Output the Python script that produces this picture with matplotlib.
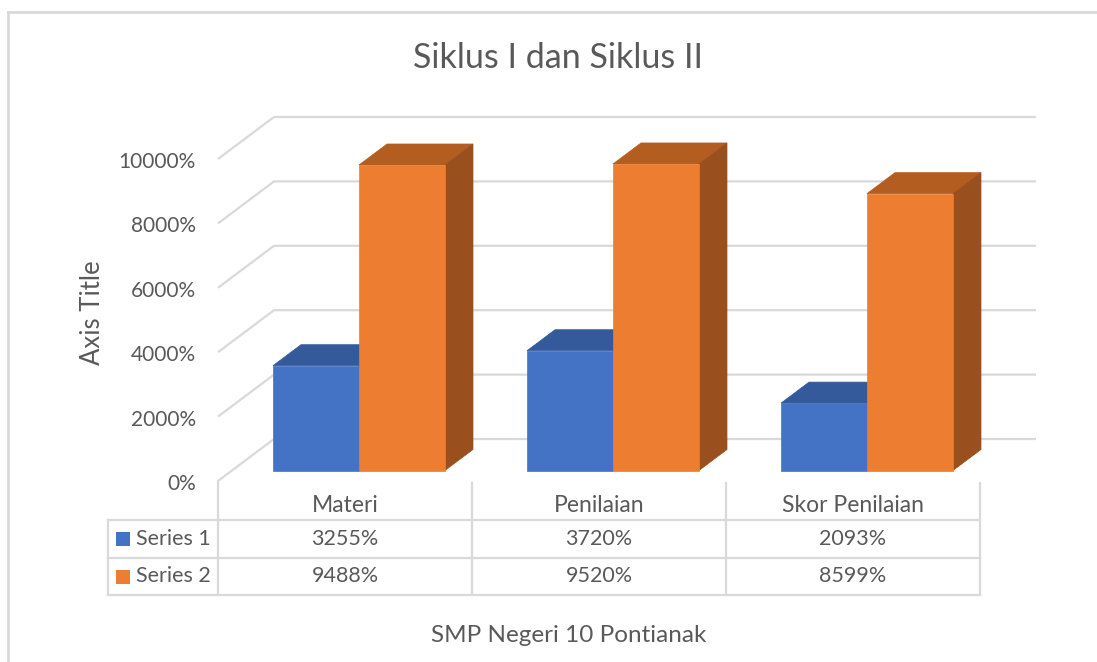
import matplotlib
matplotlib.use("Agg")
import matplotlib.pyplot as plt
from matplotlib.patches import Polygon

# chart data
categories = ["Materi", "Penilaian", "Skor Penilaian"]
series_names = ["Series 1", "Series 2"]
series_1 = [3255, 3720, 2093]
series_2 = [9488, 9520, 8599]
y_ticks = [0, 2000, 4000, 6000, 8000, 10000]

# Excel-like styling
FRONT = ["#4472C4", "#ED7D31"]
TOP = ["#345A9B", "#B45D21"]
SIDE = ["#2C4D85", "#9A4F1E"]
GRID = "#D9D9D9"
TXT = "#595959"
FONT = "Lato"

W, H = 1097, 662
# projection: category unit = 254 px, 0.0322 px per percent, front floor at y=481 px
X0, CAT_PX = 218, 254
Y0, PX_PER = 481, 0.0322
DEPTH_X = 56 / CAT_PX      # full depth offset (category units)
DEPTH_Y = 42 / PX_PER      # full depth offset (value units)
BAR_W = 86 / CAT_PX

fig = plt.figure(figsize=(W / 100, H / 100), dpi=100)
ax = fig.add_axes([0, 0, 1, 1])
ax.set_xlim(-X0 / CAT_PX, (W - X0) / CAT_PX)
ax.set_ylim((Y0 - H) / PX_PER, Y0 / PX_PER)
ax.axis("off")

# pixel overlay for text and table
pix = fig.add_axes([0, 0, 1, 1], zorder=5)
pix.set_xlim(0, W)
pix.set_ylim(H, 0)
pix.axis("off")
pix.patch.set_alpha(0)

n = len(categories)

# walls: side-wall diagonals and back-wall gridlines
for v in y_ticks:
    ax.plot([0, DEPTH_X, n + DEPTH_X], [v, v + DEPTH_Y, v + DEPTH_Y],
            color=GRID, lw=1.6, solid_capstyle="butt", zorder=1)


def draw_bar(x_left, value, k, z):
    d0, d1 = 0.25, 0.75
    fx, fy = x_left + d0 * DEPTH_X, d0 * DEPTH_Y
    bx, by = (d1 - d0) * DEPTH_X, (d1 - d0) * DEPTH_Y
    top = [(fx, fy + value), (fx + BAR_W, fy + value),
           (fx + BAR_W + bx, fy + value + by), (fx + bx, fy + value + by)]
    side = [(fx + BAR_W, fy), (fx + BAR_W + bx, fy + by),
            (fx + BAR_W + bx, fy + value + by), (fx + BAR_W, fy + value)]
    ax.add_patch(Polygon(top, closed=True, facecolor=TOP[k], edgecolor=TOP[k], lw=0.5, zorder=z))
    ax.add_patch(Polygon(side, closed=True, facecolor=SIDE[k], edgecolor=SIDE[k], lw=0.5, zorder=z))
    ax.bar(fx, value, width=BAR_W, bottom=fy, align="edge",
           color=FRONT[k], edgecolor=FRONT[k], lw=0.5, zorder=z + 0.5)


for i in range(n):
    center = i + 0.5
    for k, vals in enumerate([series_1, series_2]):
        x_left = center - BAR_W + k * BAR_W
        draw_bar(x_left, vals[i], k, 2 + i * 2 + k)

# value axis labels (front plane)
for v in y_ticks:
    py = Y0 - v * PX_PER + 3
    pix.text(196, py, f"{v}%", ha="right", va="center", fontsize=15,
             color=TXT, family=FONT)

# titles
pix.text(558, 68, "Siklus I dan Siklus II", ha="center", va="baseline",
         fontsize=24.5, color=TXT, family=FONT)
pix.text(93, 313, "Axis Title", ha="center", va="center", rotation=90,
         fontsize=18.5, color=TXT, family=FONT)
pix.text(569, 636, "SMP Negeri 10 Pontianak", ha="center", va="center",
         fontsize=17.5, color=TXT, family=FONT)

# data table
col_x = [X0 + CAT_PX * i for i in range(n + 1)]
row_y = [520, 558, 595]
lw_t = 1.6
for yy in row_y:
    pix.plot([108, col_x[-1]], [yy, yy], color=GRID, lw=lw_t, zorder=1)
pix.plot([108, 108], [row_y[0], row_y[-1]], color=GRID, lw=lw_t)
pix.plot([col_x[0], col_x[0]], [Y0, row_y[-1]], color=GRID, lw=lw_t)
for cx in col_x[1:]:
    pix.plot([cx, cx], [483, row_y[-1]], color=GRID, lw=lw_t)

for i, cat in enumerate(categories):
    cx = (col_x[i] + col_x[i + 1]) / 2
    pix.text(cx, 506, cat, ha="center", va="center", fontsize=16.5,
             color=TXT, family=FONT)
    for r, vals in enumerate([series_1, series_2]):
        ry = (row_y[r] + row_y[r + 1]) / 2
        pix.text(cx, ry, f"{vals[i]}%", ha="center", va="center",
                 fontsize=15.5, color=TXT, family=FONT)

for r, name in enumerate(series_names):
    ry = (row_y[r] + row_y[r + 1]) / 2
    pix.add_patch(plt.Rectangle((116, ry - 7), 14, 14, facecolor=FRONT[r], edgecolor="none"))
    pix.text(136, ry, name, ha="left", va="center", fontsize=15.5,
             color=TXT, family=FONT)

# chart border (top and left visible)
pix.plot([8, W], [12, 12], color=GRID, lw=2)
pix.plot([8, 8], [12, H], color=GRID, lw=2)

fig.savefig("out.png", dpi=100)
